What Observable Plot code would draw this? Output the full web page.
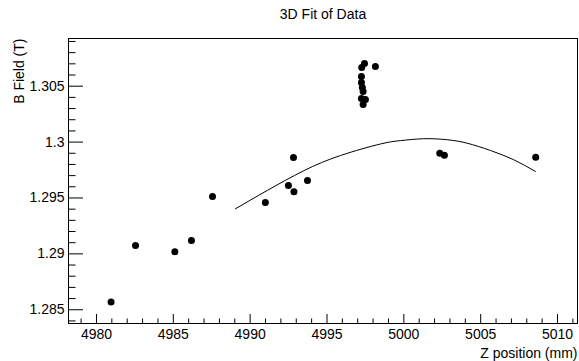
<!DOCTYPE html>
<html>
<head>
<meta charset="utf-8">
<script src="https://cdn.jsdelivr.net/npm/d3@7"></script>
<script src="https://cdn.jsdelivr.net/npm/@observablehq/plot@0.6"></script>
<style>
  html, body { margin: 0; padding: 0; background: #fff; }
  #chart svg { display: block; }
</style>
</head>
<body>
<div id="chart"></div>
<script>
// Measured points (Z position mm, B field T)
const zPos = [4980.95, 4982.54, 4985.10, 4986.18, 4987.55, 4990.99, 4992.49, 4992.85, 4992.82, 4993.73,
  4997.44, 4997.26, 4998.15, 4997.24, 4997.24, 4997.30, 4997.35, 4997.24, 4997.50, 4997.35,
  5002.34, 5002.64, 5008.58];
const bField = [1.28570, 1.29075, 1.29020, 1.29120, 1.29513, 1.29460, 1.29612, 1.29555, 1.29862, 1.29657,
  1.30703, 1.30667, 1.30676, 1.30587, 1.30533, 1.30488, 1.30453, 1.30390, 1.30381, 1.30336,
  1.29901, 1.29883, 1.29865];

// Fit curve
const fitZ = [4989.04, 4991.11, 4993.49, 4995.88, 4998.48, 4999.78, 5001.29, 5002.82, 5004.12, 5005.63, 5007.15, 5008.56];
const fitB = [1.29403, 1.29567, 1.29744, 1.29880, 1.29983, 1.30013, 1.30030, 1.30021, 1.29990, 1.29925, 1.29842, 1.29737];

// Ticks
const xMajor = [4980, 4985, 4990, 4995, 5000, 5005, 5010];
const xMinor = [4979, 4981, 4982, 4983, 4984, 4986, 4987, 4988, 4989, 4991, 4992, 4993, 4994,
  4996, 4997, 4998, 4999, 5001, 5002, 5003, 5004, 5006, 5007, 5008, 5009, 5011];
const yMajor = [1.285, 1.29, 1.295, 1.3, 1.305];
const yMajorLabels = ["1.285", "1.29", "1.295", "1.3", "1.305"];
const yMinor = [1.284, 1.286, 1.287, 1.288, 1.289, 1.291, 1.292, 1.293, 1.294, 1.296, 1.297,
  1.298, 1.299, 1.301, 1.302, 1.303, 1.304, 1.306, 1.307, 1.308, 1.309];

const titleText = "3D Fit of Data";
const xLabel = "Z position (mm)";
const yLabel = "B Field (T)";

const points = zPos.map((z, i) => ({z, b: bField[i]}));
const fit = fitZ.map((z, i) => ({z, b: fitB[i]}));

const W = 579, H = 361;
const mL = 68, mR = 2, mT = 38, mB = 38;
const pw = W - mL - mR, ph = H - mT - mB;
const font = "'Liberation Sans', Arial, Helvetica, sans-serif";

const chart = Plot.plot({
  width: W, height: H,
  marginLeft: mL, marginRight: mR, marginTop: mT, marginBottom: mB,
  style: {fontFamily: font, fontSize: "14px", background: "#fff", color: "#000"},
  x: {domain: [4978.18, 5011.30], axis: null},
  y: {domain: [1.28377, 1.309267], axis: null},
  marks: [
    Plot.tickX(xMajor, {x: d => d, insetTop: ph - 9, stroke: "#000"}),
    Plot.tickX(xMinor, {x: d => d, insetTop: ph - 4.5, stroke: "#000"}),
    Plot.tickY(yMajor, {y: d => d, insetRight: pw - 15, stroke: "#000"}),
    Plot.tickY(yMinor, {y: d => d, insetRight: pw - 7.5, stroke: "#000"}),
    Plot.axisX({ticks: xMajor, tickSize: 0, tickPadding: 6, label: null, fontSize: 14, tickFormat: d => String(d)}),
    Plot.axisY({ticks: yMajor, tickSize: 0, tickPadding: 4, label: null, fontSize: 14, tickFormat: (d, i) => yMajorLabels[i]}),
    Plot.line(fit, {x: "z", y: "b", curve: "natural", stroke: "#000", strokeWidth: 1}),
    Plot.dot(points, {x: "z", y: "b", r: 3.5, fill: "#000", stroke: "none"}),
    Plot.frame({stroke: "#000", strokeWidth: 1}),
    Plot.text([titleText], {frameAnchor: "top", lineAnchor: "bottom", dy: -20, fontSize: 14, fill: "#000"}),
    Plot.text([xLabel], {frameAnchor: "bottom-right", textAnchor: "end", lineAnchor: "bottom", dy: 34, fontSize: 14, fill: "#000"}),
    Plot.text([yLabel], {frameAnchor: "top-left", textAnchor: "end", lineAnchor: "bottom", rotate: -90, dx: -45, fontSize: 14, fill: "#000"})
  ]
});
document.getElementById("chart").appendChild(chart);
</script>
</body>
</html>
